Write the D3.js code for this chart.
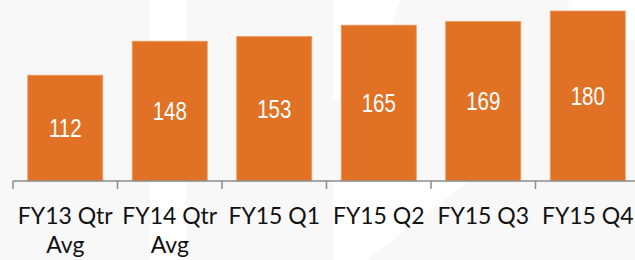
<!DOCTYPE html>
<html lang="en">
<head>
    <meta charset="UTF-8">
    <title>Quarterly bar chart</title>
    <script src="https://d3js.org/d3.v7.min.js"></script>
    <style>
        body { margin: 0; background: #ffffff; }
    </style>
</head>
<body>
<svg id="main" width="635" height="260" viewBox="0 0 635 260"></svg>
<script>
    // chart data
    let categories = ["FY13 Qtr Avg", "FY14 Qtr Avg", "FY15 Q1", "FY15 Q2", "FY15 Q3", "FY15 Q4"];
    let values = [112, 148, 153, 165, 169, 180];
    let tickLabels = [["FY13 Qtr", "Avg"], ["FY14 Qtr", "Avg"], ["FY15 Q1"], ["FY15 Q2"], ["FY15 Q3"], ["FY15 Q4"]];

    let svg = d3.select('svg#main');
    let W = 635, H = 260;
    let baseY = 181;

    // faint watermark background
    let bg = svg.append('g');
    bg.append('rect').attr('width', W).attr('height', H).style('fill', '#f8f8f8');
    bg.append('rect').attr('x', 150).attr('y', 0).attr('width', 36).attr('height', H).style('fill', '#ffffff');
    bg.append('path').attr('d', 'M333,0 L400,0 L370,100 L333,100 Z').style('fill', '#ffffff');
    bg.append('path').attr('d', 'M333,180 L470,180 L367,260 L333,260 Z').style('fill', '#ffffff');
    bg.append('path').attr('d', 'M570,0 L635,0 L635,40 L555,40 Z').style('fill', '#ffffff');

    // scales
    let x = d3.scaleBand().domain(categories).range([13, 640]).paddingInner(0.282).paddingOuter(0.141);
    let y = d3.scaleLinear().domain([0, 180]).range([baseY, 11]);

    // bars
    let bars = svg.append('g');
    bars.selectAll('rect')
        .data(values)
        .join('rect')
        .attr('x', function (d, i) { return x(categories[i]); })
        .attr('y', function (d) { return y(d); })
        .attr('width', x.bandwidth())
        .attr('height', function (d) { return y(0) - y(d); })
        .style('fill', '#e17225')
        .style('stroke', '#eb9a63')
        .style('stroke-width', '0.8px');

    // value labels, centred in the bar (narrowed to look condensed)
    bars.selectAll('text')
        .data(values)
        .join('text')
        .attr('transform', function (d, i) {
            let cx = x(categories[i]) + x.bandwidth() / 2;
            let cy = (y(d) + y(0)) / 2 + 9;
            return 'translate(' + cx + ',' + cy + ') scale(0.82,1)';
        })
        .attr('text-anchor', 'middle')
        .style('font-family', '"Liberation Sans", Arial, sans-serif')
        .style('font-size', '25px')
        .style('fill', '#ffffff')
        .text(function (d) { return d; });

    // x axis: line plus ticks on band boundaries
    let axis = svg.append('g').attr('class', 'axis');
    let half = (x.step() - x.bandwidth()) / 2;
    let bounds = categories.map(function (c) { return x(c) - half; });
    bounds.push(x(categories[categories.length - 1]) + x.bandwidth() + half);
    axis.append('line')
        .attr('x1', bounds[0]).attr('x2', W)
        .attr('y1', baseY).attr('y2', baseY)
        .style('stroke', '#8c8c8c').style('stroke-width', '1.5px');
    axis.selectAll('line.tick')
        .data(bounds)
        .join('line')
        .attr('class', 'tick')
        .attr('x1', function (d) { return d; }).attr('x2', function (d) { return d; })
        .attr('y1', baseY).attr('y2', baseY + 8)
        .style('stroke', '#8c8c8c').style('stroke-width', '1.5px');

    // category labels
    let labels = axis.selectAll('text.cat')
        .data(tickLabels)
        .join('text')
        .attr('class', 'cat')
        .attr('text-anchor', 'middle')
        .attr('x', 0)
        .attr('y', 0)
        .style('font-family', 'Lato, "Open Sans", sans-serif')
        .style('font-size', '24px')
        .style('fill', '#111111');
    labels.selectAll('tspan')
        .data(function (d) { return d; })
        .join('tspan')
        .attr('x', 0)
        .attr('dy', function (d, i) { return i === 0 ? 0 : 29; })
        .text(function (d) { return d; });

    // squeeze labels so "FY13 Qtr" is about 95px wide, as in the picture
    let firstLen = labels.select('tspan').node().getComputedTextLength();
    let k = Math.min(1, 95 / firstLen);
    labels.attr('transform', function (d, i) {
        return 'translate(' + (x(categories[i]) + x.bandwidth() / 2) + ',224) scale(' + k + ',1)';
    });
</script>
</body>
</html>
